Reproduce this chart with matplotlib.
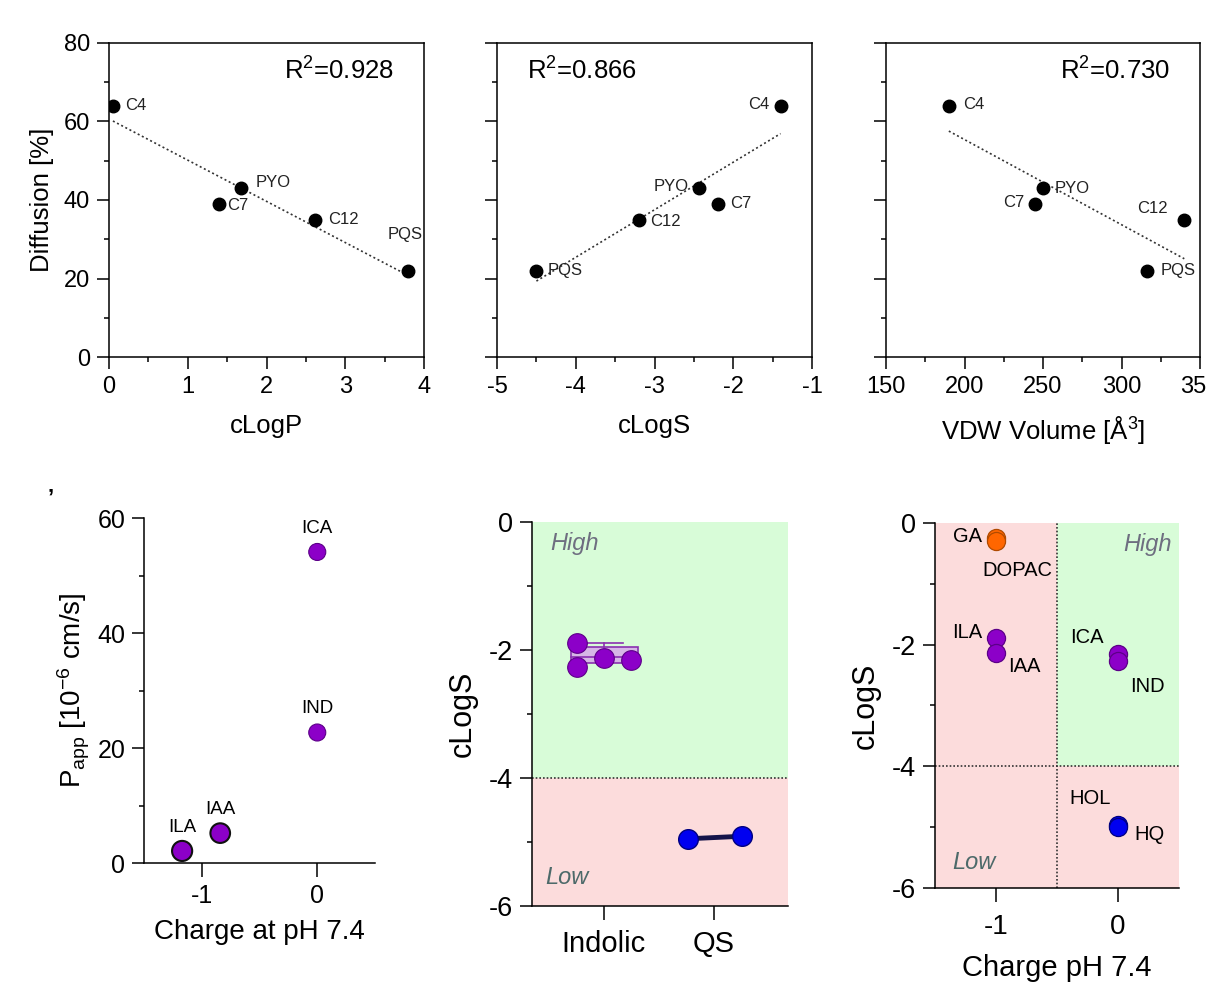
import numpy as np
import matplotlib
matplotlib.use("Agg")
import matplotlib.pyplot as plt
from matplotlib.patches import Rectangle

plt.rcParams["font.family"] = ["Liberation Sans", "DejaVu Sans"]
plt.rcParams["mathtext.fontset"] = "custom"
plt.rcParams["mathtext.rm"] = "Liberation Sans"
plt.rcParams["mathtext.it"] = "Liberation Sans:italic"
plt.rcParams["axes.unicode_minus"] = False

# ---- data: top row (diffusion vs descriptors) ---------------------------
QS_NAMES = ["C4", "C7", "PYO", "C12", "PQS"]
DIFFUSION = [64, 39, 43, 35, 22]
CLOGP = [0.05, 1.40, 1.68, 2.62, 3.80]
CLOGS_QS = [-1.40, -2.20, -2.43, -3.20, -4.50]
VDW = [190, 245, 250, 340, 316]
R2 = ["0.928", "0.866", "0.730"]

# ---- data: bottom row -----------------------------------------------------
PAPP_NAMES = ["ILA", "IAA", "ICA", "IND"]
PAPP_CHARGE = [-1.17, -0.84, 0.0, 0.0]
PAPP = [2.1, 5.2, 54.1, 22.7]

INDOLIC_CLOGS = [-1.89, -2.27, -2.12, -2.16]
INDOLIC_JITTER = [-0.24, -0.24, 0.0, 0.25]
INDOLIC_BOX = [-2.20, -1.96]
QS_CLOGS = [-4.95, -4.91]
QS_JITTER = [-0.24, 0.25]
GROUPS = ["Indolic", "QS"]

CH_NAMES = ["GA", "DOPAC", "ILA", "IAA", "ICA", "IND", "HOL", "HQ"]
CH_CHARGE = [-1, -1, -1, -1, 0, 0, 0, 0]
CH_CLOGS = [-0.25, -0.30, -1.89, -2.13, -2.15, -2.27, -4.97, -5.00]
CH_KIND = ["o", "o", "i", "i", "i", "i", "q", "q"]

PURPLE, PURPLE_E = "#8c00c8", "#5c0088"
ORANGE, ORANGE_E = "#ff6600", "#b04a00"
BLUE, BLUE_E = "#0000f0", "#000080"
GREEN_BG, PINK_BG = "#d8fcd8", "#fcdcdc"
FACE = {"o": (ORANGE, ORANGE_E), "i": (PURPLE, PURPLE_E), "q": (BLUE, BLUE_E)}

fig = plt.figure(figsize=(12.07, 10.02), dpi=100)

def style(ax, size=17):
    ax.tick_params(which="major", direction="out", length=8.5, width=1.1,
                   labelsize=size, pad=5)
    ax.tick_params(which="minor", direction="out", length=3.8, width=1.1)
    for s in ax.spines.values():
        s.set_linewidth(1.1)

# ---- top row --------------------------------------------------------------
top_axes = [fig.add_axes([0.0903, 0.6437, 0.2610, 0.3134]),
            fig.add_axes([0.4118, 0.6437, 0.2610, 0.3134]),
            fig.add_axes([0.7341, 0.6437, 0.2601, 0.3134])]
xs_list = [CLOGP, CLOGS_QS, VDW]
xlims = [(0, 4), (-5, -1), (150, 350)]
xlabels = ["cLogP", "cLogS", "VDW Volume [Å$^3$]"]
r2_pos = [(0.73, 0.91), (0.27, 0.91), (0.73, 0.91)]
offsets = [
    {"C4": (9, 0, "left"), "C7": (6, -1, "left"), "PYO": (10, 4, "left"),
     "C12": (9, 0, "left"), "PQS": (-2, 26, "center")},
    {"C4": (-8, 1, "right"), "C7": (9, 0, "left"), "PYO": (-8, 1, "right"),
     "C12": (8, -1, "left"), "PQS": (8, 0, "left")},
    {"C4": (10, 1, "left"), "C7": (-8, 1, "right"), "PYO": (8, 0, "left"),
     "C12": (-12, 8, "right"), "PQS": (10, 0, "left")},
]

for i, ax in enumerate(top_axes):
    xs = np.array(xs_list[i], dtype=float)
    ys = np.array(DIFFUSION, dtype=float)
    slope, icpt = np.polyfit(xs, ys, 1)
    xl = np.array([xs.min(), xs.max()])
    ax.plot(xl, slope * xl + icpt, ls=(0, (1.2, 1.6)), color="#333333",
            lw=1.2, zorder=2)
    ax.plot(xs, ys, "o", color="black", ms=9, zorder=3)
    for n, x, y in zip(QS_NAMES, xs, ys):
        dx, dy, ha = offsets[i][n]
        ax.annotate(n, (x, y), xytext=(dx, dy), textcoords="offset points",
                    ha=ha, va="center", fontsize=12, color="#222222")
    ax.set_xlim(*xlims[i])
    ax.set_ylim(0, 80)
    ax.set_yticks([0, 20, 40, 60, 80])
    ax.set_yticks([10, 30, 50, 70], minor=True)
    lo, hi = xlims[i]
    step = (hi - lo) / 4
    ax.set_xticks(np.arange(lo, hi + step / 2, step))
    ax.set_xticks(np.arange(lo + step / 2, hi, step), minor=True)
    if i == 0:
        ax.set_ylabel("Diffusion [%]", fontsize=18.5, labelpad=7)
    else:
        ax.set_yticklabels([])
    ax.set_xlabel(xlabels[i], fontsize=18.5, labelpad=12)
    ax.text(*r2_pos[i], "R$^2$=" + R2[i], transform=ax.transAxes,
            ha="center", va="center", fontsize=18.5)
    style(ax, 17)

top_axes[2].set_xticklabels(["150", "200", "250", "300", "350"])

# ---- bottom left: Papp vs charge -----------------------------------------
ax4 = fig.add_axes([0.1193, 0.1387, 0.1914, 0.3443])
sizes = [210, 200, 150, 150]
edges = ["#111111", "#111111", PURPLE_E, PURPLE_E]
lws = [1.5, 1.5, 0.8, 0.8]
ax4.scatter(PAPP_CHARGE, PAPP, s=sizes, c=PURPLE, edgecolors=edges,
            linewidths=lws, zorder=3, clip_on=False)
for n, x, y in zip(PAPP_NAMES, PAPP_CHARGE, PAPP):
    ax4.annotate(n, (x, y), xytext=(0, 17), textcoords="offset points",
                 ha="center", va="center", fontsize=13.5)
ax4.set_xlim(-1.5, 0.5)
ax4.set_ylim(0, 60)
ax4.set_xticks([-1, 0])
ax4.set_yticks([0, 20, 40, 60])
ax4.set_yticks([10, 30, 50], minor=True)
ax4.spines["top"].set_visible(False)
ax4.spines["right"].set_visible(False)
ax4.set_xlabel("Charge at pH 7.4", fontsize=20, labelpad=8)
ax4.set_ylabel("P$_{\\mathrm{app}}$ [10$^{-6}$ cm/s]", fontsize=20, labelpad=4)
style(ax4, 18)
ax4.tick_params(axis="x", which="major", length=10)
fig.text(0.039, 0.497, "’", fontsize=16, fontweight="bold")

# ---- bottom middle: cLogS by group ----------------------------------------
ax5 = fig.add_axes([0.4408, 0.0958, 0.2121, 0.3832])
ax5.set_xlim(-0.65, 1.67)
ax5.set_ylim(-6, 0)
ax5.axhspan(-4, 0, color=GREEN_BG, zorder=0, lw=0)
ax5.axhspan(-6, -4, color=PINK_BG, zorder=0, lw=0)
ax5.axhline(-4, color="#333333", ls=(0, (1, 1.2)), lw=1.2, zorder=1)
ind_x = np.array(INDOLIC_JITTER)
ax5.add_patch(Rectangle((ind_x.min() - 0.06, INDOLIC_BOX[0]),
                        ind_x.max() - ind_x.min() + 0.12,
                        INDOLIC_BOX[1] - INDOLIC_BOX[0],
                        facecolor="#d6b6e6", edgecolor="#8a30b0", lw=1.2,
                        zorder=2))
ind_mean = np.mean(INDOLIC_CLOGS)
ax5.plot([ind_x.min() - 0.06, ind_x.max() + 0.06], [ind_mean, ind_mean],
         color="#8a30b0", lw=1.2, zorder=2)
ax5.plot([-0.15, 0.17], [max(INDOLIC_CLOGS)] * 2, color="#8a30b0", lw=1.2,
         zorder=2)
ax5.plot([0.0, 0.0], [max(INDOLIC_CLOGS), INDOLIC_BOX[1]], color="#8a30b0",
         lw=1.2, zorder=2)
ax5.scatter(ind_x, INDOLIC_CLOGS, s=200, c=PURPLE, edgecolors=PURPLE_E,
            linewidths=0.8, zorder=3)
qs_x = 1 + np.array(QS_JITTER)
ax5.plot(qs_x, QS_CLOGS, color="#14144a", lw=3.5, zorder=2)
ax5.scatter(qs_x, QS_CLOGS, s=200, c=BLUE, edgecolors=BLUE_E,
            linewidths=1.0, zorder=3)
ax5.set_xticks([0, 1])
ax5.set_xticklabels(GROUPS)
ax5.set_yticks([0, -2, -4, -6])
ax5.set_yticks([-1, -3, -5], minor=True)
ax5.spines["top"].set_visible(False)
ax5.spines["right"].set_visible(False)
ax5.set_ylabel("cLogS", fontsize=22, labelpad=8)
ax5.text(0.07, 0.945, "High", transform=ax5.transAxes, fontsize=17,
         style="italic", color="#6e6e80", va="center")
ax5.text(0.05, 0.075, "Low", transform=ax5.transAxes, fontsize=17,
         style="italic", color="#4d6a6a", va="center")
style(ax5, 19.5)
ax5.tick_params(axis="x", which="major", length=10, labelsize=21, pad=7)

# ---- bottom right: cLogS vs charge ----------------------------------------
ax6 = fig.add_axes([0.7746, 0.1138, 0.2022, 0.3643])
ax6.set_xlim(-1.5, 0.5)
ax6.set_ylim(-6, 0)
ax6.axhspan(-6, 0, color=PINK_BG, zorder=0, lw=0)
ax6.fill_between([-0.5, 0.5], -4, 0, color=GREEN_BG, zorder=0, lw=0)
ax6.axhline(-4, color="#333333", ls=(0, (1, 1.2)), lw=1.2, zorder=1)
ax6.axvline(-0.5, color="#333333", ls=(0, (1, 1.2)), lw=1.2, zorder=1)
for k in ["o", "i", "q"]:
    idx = [j for j, kk in enumerate(CH_KIND) if kk == k]
    ax6.scatter([CH_CHARGE[j] for j in idx], [CH_CLOGS[j] for j in idx],
                s=170, c=FACE[k][0], edgecolors=FACE[k][1], linewidths=0.9,
                zorder=3)
ch_off = {"GA": (-10, 1, "right"), "DOPAC": (-10, -21, "left"),
          "ILA": (-10, 4, "right"), "IAA": (9, -10, "left"),
          "ICA": (-10, 12, "right"), "IND": (9, -18, "left"),
          "HOL": (-5, 19, "right"), "HQ": (12, -5, "left")}
for n, x, y in zip(CH_NAMES, CH_CHARGE, CH_CLOGS):
    dx, dy, ha = ch_off[n]
    ax6.annotate(n, (x, y), xytext=(dx, dy), textcoords="offset points",
                 ha=ha, va="center", fontsize=14.5)
ax6.set_xticks([-1, 0])
ax6.set_yticks([0, -2, -4, -6])
ax6.set_yticks([-1, -3, -5], minor=True)
ax6.spines["top"].set_visible(False)
ax6.spines["right"].set_visible(False)
ax6.set_ylabel("cLogS", fontsize=22, labelpad=8)
ax6.set_xlabel("Charge pH 7.4", fontsize=21, labelpad=10)
ax6.text(0.97, 0.94, "High", transform=ax6.transAxes, fontsize=17,
         style="italic", color="#6e6e80", va="center", ha="right")
ax6.text(0.07, 0.07, "Low", transform=ax6.transAxes, fontsize=17,
         style="italic", color="#4d6a6a", va="center")
style(ax6, 19.5)
ax6.tick_params(axis="x", which="major", length=10, labelsize=20, pad=9)

fig.savefig("out.png", dpi=100)
